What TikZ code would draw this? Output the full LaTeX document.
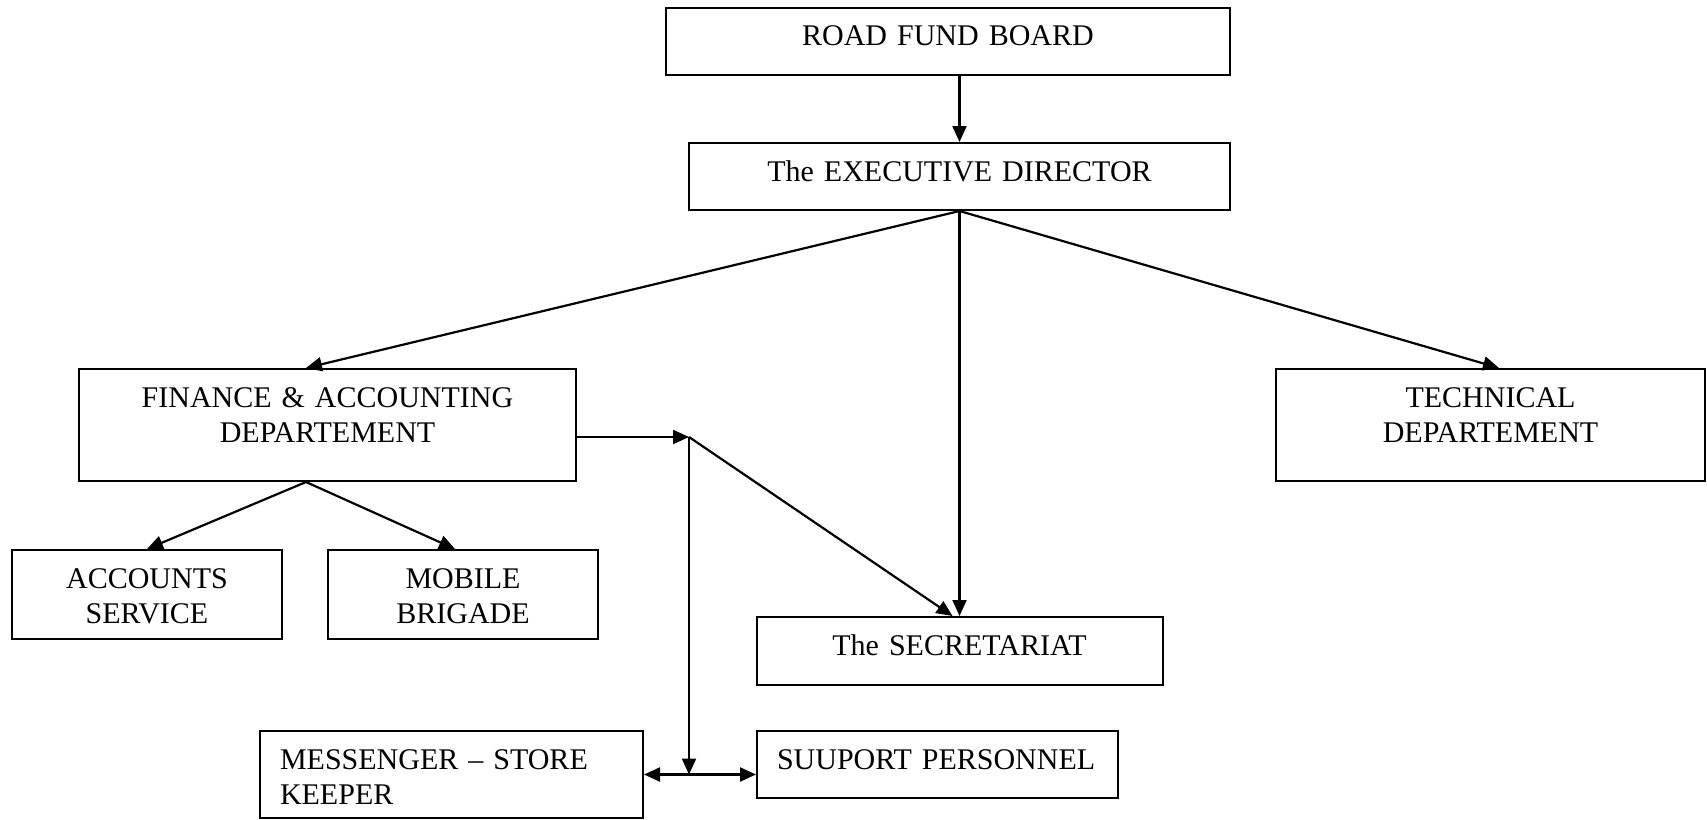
\documentclass[tikz,border=0pt]{standalone}
\usepackage{fontspec}
\setmainfont{Liberation Serif}
\usepackage{tikz}
\usetikzlibrary{arrows.meta,positioning,calc}

\tikzset{
  box/.style={draw, line width=1pt, inner xsep=10pt, inner ysep=0pt,
    text height=19pt, align=center,
    font=\fontsize{15}{17.5}\selectfont},
  conn/.style={line width=1.1pt}
}

\begin{document}
\begin{tikzpicture}[x=0.5pt, y=-0.5pt, >={Triangle[length=8pt,width=7pt]}]

  \useasboundingbox (0,0) rectangle (1707,819);

  % Define coordinates for nodes
  \node[box, text width=262pt, text depth=14.5pt] (rfb) at (948, 41.5) {ROAD FUND BOARD};
  \node[box, text width=250.5pt, text depth=14.5pt] (exec) at (959.5, 176.5) {The EXECUTIVE DIRECTOR};
  \node[box, text width=228.5pt, text depth=37pt] (fin) at (327.5, 425) {FINANCE \& ACCOUNTING\\DEPARTEMENT};
  \node[box, text width=194.5pt, text depth=37pt] (tech) at (1490.5, 425) {TECHNICAL\\DEPARTEMENT};
  \node[box, text width=115pt, text depth=25.5pt] (acc) at (147, 594.5) {ACCOUNTS\\SERVICE};
  \node[box, text width=115pt, text depth=25.5pt] (mob) at (463, 594.5) {MOBILE\\BRIGADE};
  \node[box, text width=183pt, text depth=15pt] (sec) at (959.5, 651) {The SECRETARIAT};
  \node[box, align=left, text width=171.5pt, text depth=24.5pt] (msk) at (451.5, 774.5) {MESSENGER – STORE\\KEEPER};
  \node[box, align=left, text width=160.5pt, text depth=14.5pt] (sup) at (937.5, 764.5) {SUUPORT PERSONNEL};
  \coordinate (jn) at (689, 437);

  % Draw arrows between nodes
  \draw[conn, ->] (rfb.south -| exec.north) -- (exec.north);
  \draw[conn, ->] (exec.south) -- ([xshift=-10.75pt]fin.north);
  \draw[conn, ->] (exec.south) -- (sec.north);
  \draw[conn, ->] (exec.south) -- ([xshift=4.25pt]tech.north);
  \draw[conn, ->] ([xshift=-10.75pt]fin.south) -- (acc.north);
  \draw[conn, ->] ([xshift=-10.75pt]fin.south) -- ([xshift=-4pt]mob.north);
  \draw[conn, ->] (fin.east |- jn) -- (jn);
  \draw[conn, ->] (jn) -- ([xshift=-3.5pt]sec.north);
  \draw[conn, ->] (jn) -- (jn |- msk.east);
  \draw[conn, <->] (msk.east) -- (sup.west |- msk.east);
\end{tikzpicture}
\end{document}
